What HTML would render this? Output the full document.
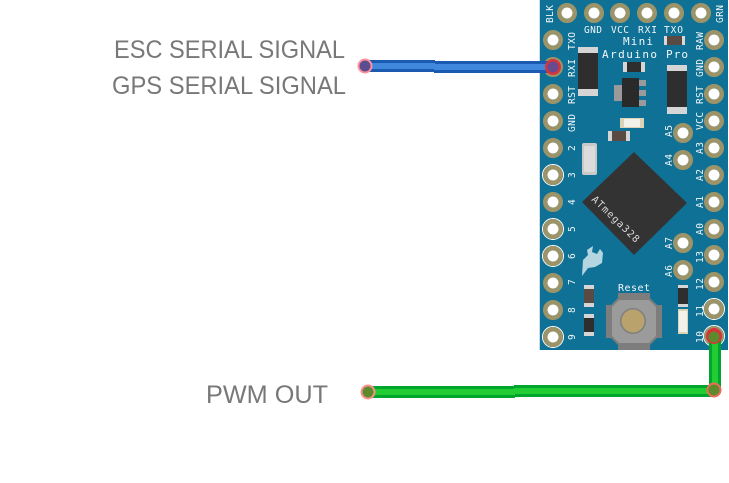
<!DOCTYPE html>
<html><head><meta charset="utf-8"><style>
html,body{margin:0;padding:0;background:#fff;width:729px;height:483px;overflow:hidden}
svg{display:block}
.l{font-family:"Liberation Sans",sans-serif;font-size:25px;fill:#787878}
.m{font-family:"DejaVu Sans Mono","Liberation Mono",monospace;font-size:9.5px;fill:#f2f7f8}
</style></head><body>
<svg width="729" height="483" viewBox="0 0 729 483" xmlns="http://www.w3.org/2000/svg">
<defs>
<g id="p"><circle r="7.75" fill="none" stroke="#9c9468" stroke-width="4.5"/><circle r="5.5" fill="#fff"/></g>
<g id="q"><circle r="10.5" fill="none" stroke="#fff" stroke-width="1"/><use href="#p"/></g>
</defs>
<rect x="540" y="0" width="188" height="350" fill="#0f7196"/>
<rect x="539" y="0" width="1" height="350" fill="#c8dde4"/>

<!-- top row -->
<use href="#p" x="567" y="13"/><use href="#p" x="594" y="13"/><use href="#p" x="620" y="13"/>
<use href="#p" x="647" y="13"/><use href="#p" x="674" y="13"/><use href="#p" x="701" y="13"/>
<!-- left column -->
<use href="#p" x="553" y="40"/><use href="#p" x="553" y="67"/><use href="#p" x="553" y="94"/>
<use href="#p" x="553" y="121"/><use href="#p" x="553" y="148"/><use href="#q" x="553" y="175"/>
<use href="#p" x="553" y="202"/><use href="#q" x="553" y="229"/><use href="#q" x="553" y="256"/>
<use href="#p" x="553" y="283"/><use href="#p" x="553" y="310"/><use href="#q" x="553" y="337"/>
<!-- right column -->
<use href="#p" x="714" y="40"/><use href="#p" x="714" y="67"/><use href="#p" x="714" y="94"/>
<use href="#p" x="714" y="121"/><use href="#p" x="714" y="148"/><use href="#p" x="714" y="175"/>
<use href="#p" x="714" y="202"/><use href="#p" x="714" y="229"/><use href="#p" x="714" y="255"/>
<use href="#p" x="714" y="282"/><use href="#q" x="714" y="309"/><use href="#q" x="714" y="336"/>
<!-- inner pins -->
<use href="#p" x="683" y="133"/><use href="#p" x="683" y="160"/><use href="#p" x="683" y="243"/><use href="#p" x="683" y="270"/>

<!-- top labels -->
<text class="m" x="584" y="33" textLength="18">GND</text>
<text class="m" x="611" y="33" textLength="18">VCC</text>
<text class="m" x="638" y="33" textLength="19">RXI</text>
<text class="m" x="664" y="33" textLength="19">TXO</text>
<text class="m" x="623" y="45" style="font-size:11px" textLength="30">Mini</text>
<text class="m" x="602" y="58" style="font-size:11px" textLength="55">Arduino</text>
<text class="m" x="666" y="58" style="font-size:11px" textLength="22">Pro</text>
<text class="m" x="618" y="291" style="font-size:10px" textLength="32">Reset</text>

<!-- rotated labels -->
<g>
<text class="m" transform="translate(553,23) rotate(-90)" textLength="18">BLK</text>
<text class="m" transform="translate(723,23) rotate(-90)" textLength="18">GRN</text>
<text class="m" transform="translate(575,50) rotate(-90)" textLength="18">TXO</text>
<text class="m" transform="translate(575,77) rotate(-90)" textLength="18">RXI</text>
<text class="m" transform="translate(575,104) rotate(-90)" textLength="18">RST</text>
<text class="m" transform="translate(575,132) rotate(-90)" textLength="18">GND</text>
<text class="m" transform="translate(575,151) rotate(-90)">2</text>
<text class="m" transform="translate(575,178) rotate(-90)">3</text>
<text class="m" transform="translate(575,205) rotate(-90)">4</text>
<text class="m" transform="translate(575,232) rotate(-90)">5</text>
<text class="m" transform="translate(575,259) rotate(-90)">6</text>
<text class="m" transform="translate(575,285) rotate(-90)">7</text>
<text class="m" transform="translate(575,313) rotate(-90)">8</text>
<text class="m" transform="translate(575,340) rotate(-90)">9</text>
<text class="m" transform="translate(703,50) rotate(-90)" textLength="18">RAW</text>
<text class="m" transform="translate(703,77) rotate(-90)" textLength="18">GND</text>
<text class="m" transform="translate(703,104) rotate(-90)" textLength="18">RST</text>
<text class="m" transform="translate(703,130) rotate(-90)" textLength="18">VCC</text>
<text class="m" transform="translate(703,154) rotate(-90)" textLength="12">A3</text>
<text class="m" transform="translate(703,181) rotate(-90)" textLength="12">A2</text>
<text class="m" transform="translate(703,208) rotate(-90)" textLength="12">A1</text>
<text class="m" transform="translate(703,235) rotate(-90)" textLength="12">A0</text>
<text class="m" transform="translate(703,263) rotate(-90)" textLength="12">13</text>
<text class="m" transform="translate(703,290) rotate(-90)" textLength="12">12</text>
<text class="m" transform="translate(703,317) rotate(-90)" textLength="12">11</text>
<text class="m" transform="translate(703,343) rotate(-90)" textLength="12">10</text>
<text class="m" transform="translate(672,137) rotate(-90)" textLength="12">A5</text>
<text class="m" transform="translate(672,166) rotate(-90)" textLength="12">A4</text>
<text class="m" transform="translate(672,249) rotate(-90)" textLength="12">A7</text>
<text class="m" transform="translate(672,277) rotate(-90)" textLength="12">A6</text>
</g>

<!-- components top -->
<rect x="664" y="36" width="21" height="9" fill="#d8d8d8"/><rect x="667" y="36" width="15" height="9" fill="#5a4a44"/>
<rect x="578" y="47" width="20" height="49" fill="#2e2e2e"/><rect x="578" y="47" width="20" height="6" fill="#d5d5d5"/><rect x="578" y="89" width="20" height="7" fill="#d5d5d5"/>
<rect x="667" y="65" width="20" height="49" fill="#2e2e2e"/><rect x="667" y="65" width="20" height="6" fill="#d5d5d5"/><rect x="667" y="107" width="20" height="7" fill="#d5d5d5"/>
<rect x="623" y="62" width="22" height="10" fill="#d5d5d5"/><rect x="627" y="62" width="14" height="10" fill="#2e2e2e"/>
<rect x="614" y="85" width="8" height="16" fill="#9a9a9a"/><rect x="638" y="80" width="8" height="6" fill="#9a9a9a"/><rect x="638" y="90" width="8" height="6" fill="#9a9a9a"/><rect x="638" y="100" width="8" height="6" fill="#9a9a9a"/>
<rect x="622" y="78" width="17" height="29" fill="#2a2a2a"/>
<rect x="620" y="118" width="24" height="10" fill="#d9d4b8"/><rect x="624" y="119" width="16" height="8" fill="#f3f2ea"/>
<rect x="608" y="131" width="22" height="10" fill="#d5d5d5"/><rect x="612" y="131" width="14" height="10" fill="#5a4a44"/>
<rect x="582" y="143" width="15" height="32" rx="2" fill="#c9c9c9"/><rect x="584" y="146" width="11" height="26" rx="2" fill="#dcdcdc"/>

<!-- ATmega -->
<polygon points="634,152 687,203 634,255 582,202" fill="#333333"/>
<text transform="translate(591,200) rotate(44)" style="font-family:'DejaVu Sans Mono','Liberation Mono',monospace;font-size:10px;fill:#d8d8d8" textLength="62">ATmega328</text>

<!-- flame logo -->
<path d="M582,276 L583,260 L588,255 L587,250 L593,246 L592,252 L597,254 L600,249 L603,253 L602,263 L595,267 L588,268 Z" fill="#b4d6e0"/>

<!-- bottom components -->
<rect x="584" y="285" width="10" height="22" fill="#d5d5d5"/><rect x="584" y="289" width="10" height="14" fill="#5a4a44"/>
<rect x="584" y="314" width="10" height="22" fill="#d5d5d5"/><rect x="584" y="318" width="10" height="14" fill="#2e2e2e"/>
<rect x="678" y="285" width="10" height="22" fill="#d5d5d5"/><rect x="678" y="288" width="10" height="16" fill="#2e2e2e"/>
<rect x="678" y="309" width="10" height="25" fill="#d9d4b8"/><rect x="679" y="311" width="8" height="21" fill="#f3f2ea"/>

<!-- Reset button -->
<rect x="606" y="305" width="56" height="33" fill="#7d7d7d"/>
<rect x="618" y="293" width="32" height="57" fill="#7d7d7d"/>
<polygon points="618,298 650,298 658,306 658,337 650,345 618,345 610,337 610,306" fill="#7d7d7d"/>
<polygon points="619,300 649,300 656,307 656,336 649,343 619,343 612,336 612,307" fill="#9b9b9b"/>
<circle cx="633" cy="321" r="13" fill="#7f7f7f"/>
<circle cx="633" cy="321" r="11.5" fill="#b9a26c"/>

<!-- text labels -->
<text class="l" x="114" y="58" textLength="231" lengthAdjust="spacingAndGlyphs">ESC SERIAL SIGNAL</text>
<text class="l" x="112" y="94" textLength="234" lengthAdjust="spacingAndGlyphs">GPS SERIAL SIGNAL</text>
<text class="l" x="206" y="403" textLength="122" lengthAdjust="spacingAndGlyphs">PWM OUT</text>

<!-- blue wire -->
<rect x="365" y="60" width="70" height="12" fill="#1a5ab0"/>
<rect x="434" y="61" width="119" height="12" fill="#1a5ab0"/>
<rect x="365" y="63" width="70" height="6" fill="#4088dd"/>
<rect x="434" y="64" width="119" height="6" fill="#4088dd"/>
<circle cx="365" cy="66" r="7.5" fill="#ff8f9c"/><circle cx="365" cy="66" r="5.5" fill="#5b4d8f"/>
<circle cx="553" cy="67" r="8" fill="#d8333a"/><circle cx="553" cy="67" r="5.5" fill="#6a4a8f"/>

<!-- green wire -->
<rect x="368" y="386" width="147" height="12" fill="#00a52e"/>
<rect x="514" y="385" width="200" height="12" fill="#00a52e"/>
<rect x="368" y="389" width="147" height="6" fill="#22cc33"/>
<rect x="514" y="388" width="200" height="6" fill="#22cc33"/>
<rect x="709" y="337" width="12" height="54" fill="#00a52e"/>
<rect x="712" y="337" width="6" height="54" fill="#22cc33"/>
<circle cx="368" cy="392" r="7.5" fill="#ff8f8f"/><circle cx="368" cy="392" r="5.5" fill="#5c8a2c"/>
<circle cx="714" cy="390" r="7.5" fill="#f06a5a"/><circle cx="714" cy="390" r="5.5" fill="#5c8a2c"/>
<circle cx="714" cy="336" r="8" fill="#d8333a"/><circle cx="714" cy="337" r="5.5" fill="#5c8a2c"/>
</svg>
</body></html>
